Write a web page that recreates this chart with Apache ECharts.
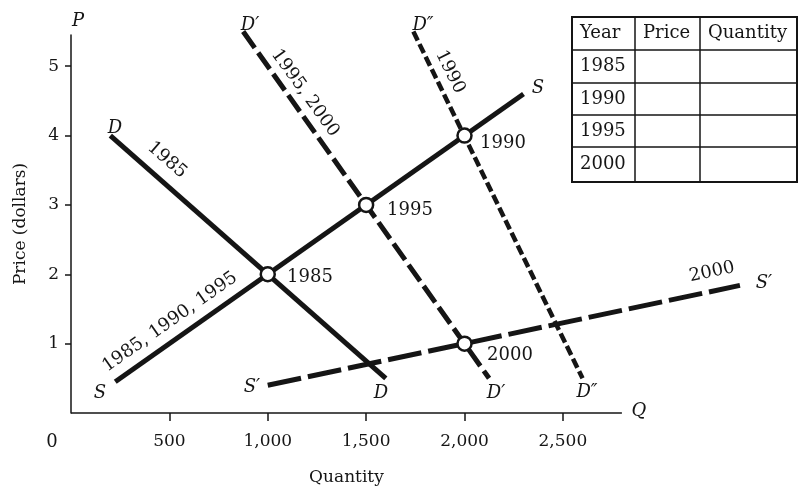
<!DOCTYPE html>
<html><head><meta charset="utf-8">
<script src="https://cdn.jsdelivr.net/npm/echarts@6/dist/echarts.min.js"></script>
<style>html,body{margin:0;padding:0;background:#fff}#c{width:798px;height:492px}</style>
</head><body><div id="c"></div>
<script>
// ---- data ----
const xTicks = [500, 1000, 1500, 2000, 2500];
const yTicks = [1, 2, 3, 4, 5];
const xAxisEnd = 2800;                               // visible end of the Q axis
const curveS = [[225, 0.45], [2300, 4.6]];          // S (1985,1990,1995)
const curveD = [[200, 4.0], [1600, 0.5]];           // D (1985)
const curveD1 = [[875, 5.5], [2125, 0.5]];          // D' (1995,2000)
const curveD2 = [[1740, 5.5], [2600, 0.5]];         // D'' (1990)
const curveS1 = [[1000, 0.4], [3400, 1.84]];        // S' (2000)
const equilibria = [[1000, 2], [1500, 3], [2000, 4], [2000, 1]];
const tableHeaders = ['Year', 'Price', 'Quantity'];
const tableYears = ['1985', '1990', '1995', '2000'];

const FONT = 'DejaVu Serif';
const INK = '#151515';
const chart = echarts.init(document.getElementById('c'));

function lineSeries(data, dash, width) {
  return {
    type: 'line', data: data, clip: false, symbol: 'none', z: 3,
    lineStyle: { color: INK, width: width || 5, type: dash || 'solid', cap: 'butt' }
  };
}
function txt(s, x, y, opt) {
  opt = opt || {};
  return {
    type: 'text', x: x, y: y, rotation: opt.rot || 0, z: 10,
    style: {
      text: s, fill: INK, font: (opt.italic ? 'italic ' : '') + (opt.size || 18) + 'px "' + FONT + '"',
      align: opt.align || 'center', verticalAlign: 'middle'
    }
  };
}

const graphics = [];
graphics.push(txt('P', 78, 21, { italic: true }));
graphics.push(txt('Q', 639, 411, { italic: true }));
graphics.push(txt('0', 52, 442));
graphics.push(txt('D', 115, 128, { italic: true }));
graphics.push(txt('1985', 167, 160, { rot: -0.72 }));
graphics.push(txt('D\u2032', 250, 25, { italic: true }));
graphics.push(txt('1995, 2000', 305, 93, { rot: -0.944 }));
graphics.push(txt('D\u2033', 423, 25, { italic: true }));
graphics.push(txt('1990', 450, 72, { rot: -1.11 }));
graphics.push(txt('S', 538, 88, { italic: true }));
graphics.push(txt('1990', 503, 143));
graphics.push(txt('1995', 410, 210));
graphics.push(txt('1985', 310, 277));
graphics.push(txt('1985, 1990, 1995', 170, 322, { rot: 0.615 }));
graphics.push(txt('S', 100, 393, { italic: true }));
graphics.push(txt('S\u2032', 252, 387, { italic: true }));
graphics.push(txt('D', 381, 393, { italic: true }));
graphics.push(txt('2000', 510, 355));
graphics.push(txt('D\u2032', 496, 393, { italic: true }));
graphics.push(txt('D\u2033', 587, 392, { italic: true }));
graphics.push(txt('2000', 712, 272, { rot: 0.21 }));
graphics.push(txt('S\u2032', 764, 283, { italic: true }));

// table
const colX = [572, 635, 700, 797];
const rowY = [17, 50, 83, 115, 147, 182];
graphics.push({ type: 'rect', shape: { x: colX[0], y: rowY[0], width: colX[3] - colX[0], height: rowY[5] - rowY[0] },
  style: { fill: 'none', stroke: INK, lineWidth: 2 }, z: 5 });
for (let i = 1; i < 3; i++) graphics.push({ type: 'line', shape: { x1: colX[i], y1: rowY[0], x2: colX[i], y2: rowY[5] }, style: { stroke: INK, lineWidth: 1.5 }, z: 5 });
for (let j = 1; j < 5; j++) graphics.push({ type: 'line', shape: { x1: colX[0], y1: rowY[j], x2: colX[3], y2: rowY[j] }, style: { stroke: INK, lineWidth: 1.5 }, z: 5 });
tableHeaders.forEach((h, i) => graphics.push(txt(h, colX[i] + 8, (rowY[0] + rowY[1]) / 2, { align: 'left' })));
tableYears.forEach((y, j) => graphics.push(txt(y, colX[0] + 8, (rowY[j + 1] + rowY[j + 2]) / 2, { align: 'left' })));

chart.setOption({
  animation: false,
  backgroundColor: '#fff',
  grid: { left: 71, top: 35, width: 708.3, height: 378 },
  xAxis: {
    type: 'value', min: 0, max: 3600,
    axisLine: { show: false },
    axisTick: { show: true, customValues: xTicks, length: 8, lineStyle: { color: INK, width: 1.5 } },
    axisLabel: { customValues: xTicks, margin: 20, fontFamily: FONT, fontSize: 17, color: INK,
      formatter: v => v.toLocaleString('en-US') },
    splitLine: { show: false }
  },
  yAxis: {
    type: 'value', min: 0, max: 5.45,
    name: 'Price (dollars)', nameLocation: 'middle', nameGap: 42, nameRotate: 90,
    nameTextStyle: { fontFamily: FONT, fontSize: 17, color: INK },
    axisLine: { show: true, lineStyle: { color: INK, width: 1.5 } },
    axisTick: { show: true, customValues: yTicks, length: 6, lineStyle: { color: INK, width: 1.5 } },
    axisLabel: { customValues: yTicks, margin: 12, fontFamily: FONT, fontSize: 17, color: INK },
    splitLine: { show: false }
  },
  series: [
    lineSeries([[0, 0], [xAxisEnd, 0]], 'solid', 1.5),   // visible Q axis line
    lineSeries(curveS),
    lineSeries(curveD),
    lineSeries(curveD1, [20, 6]),
    lineSeries(curveD2, [10, 4], 4.5),
    lineSeries(curveS1, [34, 7]),
    {
      type: 'scatter', data: equilibria, symbol: 'circle', symbolSize: 14, z: 6,
      itemStyle: { color: '#fff', borderColor: INK, borderWidth: 2.5, opacity: 1 }
    }
  ],
  graphic: graphics
});
// x-axis title centred under the visible part of the axis
const qMid = chart.convertToPixel({ xAxisIndex: 0 }, xAxisEnd / 2);
chart.setOption({ graphic: graphics.concat([txt('Quantity', qMid, 478, { size: 17 })]) });
</script>
</body></html>
